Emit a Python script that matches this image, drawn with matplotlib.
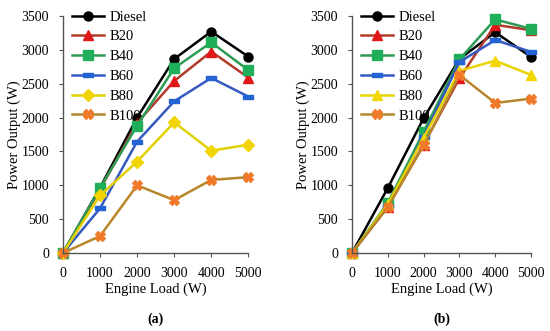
import matplotlib.pyplot as plt

# data
loads = [0, 1000, 2000, 3000, 4000, 5000]
labels = ['Diesel', 'B20', 'B40', 'B60', 'B80', 'B100']

# (a)
a_diesel = [0, 965, 2000, 2865, 3270, 2900]
a_b20 = [0, 940, 1920, 2540, 2975, 2590]
a_b40 = [0, 960, 1880, 2730, 3110, 2700]
a_b60 = [0, 660, 1645, 2240, 2585, 2310]
a_b80 = [0, 850, 1350, 1930, 1510, 1600]
a_b100 = [0, 250, 1000, 780, 1080, 1120]

# (b)
b_diesel = [0, 960, 1990, 2865, 3260, 2895]
b_b20 = [0, 680, 1600, 2580, 3370, 3290]
b_b40 = [0, 740, 1790, 2860, 3450, 3310]
b_b60 = [0, 700, 1720, 2820, 3145, 2970]
b_b80 = [0, 720, 1700, 2690, 2840, 2630]
b_b100 = [0, 680, 1590, 2630, 2215, 2280]

dash = [(-1, -0.45), (1, -0.45), (1, 0.45), (-1, 0.45), (-1, -0.45)]

# line colour, marker colour, marker, size
styles_a = [
    ('black', 'black', 'o', 6.5),
    ('#B23A2A', '#E01818', '^', 6.5),
    ('#2E9B55', '#1FAE5A', 's', 6.5),
    ('#3559C0', '#2463D4', dash, 7),
    ('#E2D000', '#F2D400', 'D', 6),
    ('#B8862A', '#F07A2A', 'X', 7),
]
styles_b = list(styles_a)
styles_b[4] = ('#E8D400', '#F2D800', '^', 7)

plt.rcParams['font.family'] = ['Liberation Serif', 'DejaVu Serif']

fig = plt.figure(figsize=(5.5, 3.31), dpi=100)
ax1 = fig.add_axes([0.1145, 0.2356, 0.337, 0.7161])
ax2 = fig.add_axes([0.64, 0.2356, 0.3255, 0.7161])


def draw(ax, series, styles, tag):
    for vals, lab, (lc, mc, mk, ms) in zip(series, labels, styles):
        ax.plot(loads, vals, color=lc, lw=1.8, marker=mk, ms=ms,
                mfc=mc, mec=mc, label=lab, clip_on=False)
    ax.set_xlim(0, 5000)
    ax.set_ylim(0, 3500)
    ax.set_xticks(loads)
    ax.set_yticks(range(0, 3501, 500))
    for s in ['top', 'right']:
        ax.spines[s].set_visible(False)
    for s in ['left', 'bottom']:
        ax.spines[s].set_color('#555555')
        ax.spines[s].set_linewidth(1)
    ax.tick_params(labelsize=10, length=3, color='#555555')
    ax.tick_params(axis='x', pad=7)
    ax.tick_params(axis='y', pad=7)
    ax.set_xlabel('Engine Load (W)', fontsize=10.5, labelpad=2)
    ax.set_ylabel('Power Output (W)', fontsize=10.5, labelpad=0)
    ax.legend(loc='upper left', bbox_to_anchor=(0.0, 1.06), frameon=False,
              fontsize=10.5, handlelength=2.2, labelspacing=0.45,
              handletextpad=0.4, borderaxespad=0.2)
    ax.text(0.5, -0.278, tag, transform=ax.transAxes, ha='center',
            va='center', fontsize=10, fontweight='bold')


draw(ax1, [a_diesel, a_b20, a_b40, a_b60, a_b80, a_b100], styles_a, '(a)')
draw(ax2, [b_diesel, b_b20, b_b40, b_b60, b_b80, b_b100], styles_b, '(b)')

fig.savefig('out.png', dpi=100)
